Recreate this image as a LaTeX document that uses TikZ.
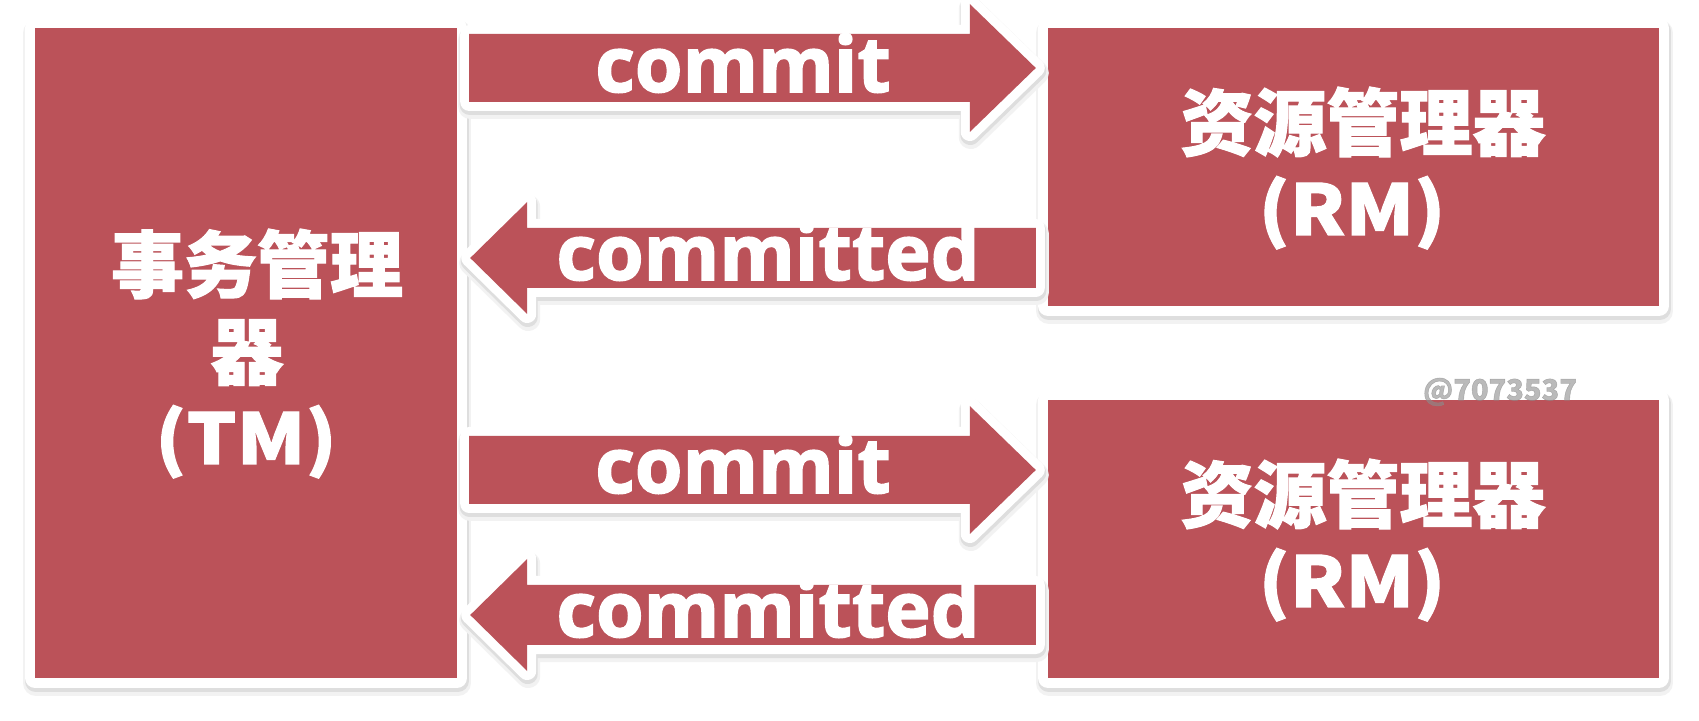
\documentclass[tikz,border=0pt]{standalone}
\usepackage{fontspec}
\newfontfamily\cjk{Noto Sans CJK SC}[BoldFeatures={FakeBold=1.5}]
\newfontfamily\widelat{Noto Sans CJK SC}[FakeStretch=1.12, BoldFeatures={FakeBold=1.5}]
\newfontfamily\lblfont{Open Sans}[BoldFeatures={FakeBold=2}]
\usetikzlibrary{calc}
\definecolor{boxred}{RGB}{187,82,89}
\tikzset{
  shad/.style={
    preaction={draw=black!5, line width=26pt, line join=round, transform canvas={xshift=1pt,yshift=-5pt}},
    preaction={draw=black!13, line width=22pt, line join=round, transform canvas={xshift=0.5pt,yshift=-3pt}},
    preaction={draw=white, line width=20pt, line join=round}},
  box/.style={shad, fill=boxred, rectangle, inner sep=0pt},
  fatarrowsty/.style={
    preaction={draw=black!5, line width=24pt, line join=round, transform canvas={xshift=1pt,yshift=-5pt}},
    preaction={draw=black!13, line width=20pt, line join=round, transform canvas={xshift=0.5pt,yshift=-3pt}},
    preaction={draw=white, line width=18pt, line join=round},
    fill=boxred},
  cjktxt/.style={font=\cjk\bfseries\fontsize{73}{73}\selectfont, text=white, inner sep=0pt, anchor=base},
  abbr/.style={font=\widelat\bfseries\fontsize{70}{70}\selectfont, text=white, inner sep=0pt, anchor=base},
  lbl/.style={font=\lblfont\bfseries\fontsize{77}{77}\selectfont, text=white, inner sep=0pt, anchor=base},
}
% #1 tail, #2 tip, #3 half body, #4 half head, #5 signed head length
\newcommand\fatarrow[5]{%
  \path[fatarrowsty] let \p1=(#1), \p2=(#2) in
    (\x1,{\y1-(#3)}) -- ({\x2-(#5)},{\y1-(#3)}) -- ({\x2-(#5)},{\y1-(#4)}) -- (\x2,\y1)
    -- ({\x2-(#5)},{\y1+(#4)}) -- ({\x2-(#5)},{\y1+(#3)}) -- (\x1,{\y1+(#3)}) -- cycle;}
\begin{document}
\begin{tikzpicture}[x=1pt,y=1pt]
  \fill[white] (0,0) rectangle (1699,720);
  \useasboundingbox (0,0) rectangle (1699,720);

  % boxes
  \node[box, minimum width=422pt, minimum height=650pt] (tm) at (246,367) {};
  \node[box, minimum width=611pt, minimum height=278pt] (rm1) at (1353.5,553) {};
  \node[box, minimum width=611pt, minimum height=278pt] (rm2) at (1353.5,181) {};

  % box texts
  \node[cjktxt] (tm1) at (257,428) {事务管理};
  \node[cjktxt] (tm2) at (247,341) {器};
  \node[abbr] (tm3) at (246,256) {(TM)};
  \node[cjktxt] (rm1a) at (1363,570) {资源管理器};
  \node[abbr] (rm1b) at (1352,485) {(RM)};
  \node[cjktxt] (rm2a) at (1363,198) {资源管理器};
  \node[abbr] (rm2b) at (1352,113) {(RM)};

  % arrow levels
  \coordinate (y1) at (0,652);
  \coordinate (y2) at (0,462);
  \coordinate (y3) at (0,250);
  \coordinate (y4) at (0,105);
  \coordinate (a1s) at ($(tm.east |- y1)+(12,0)$);
  \coordinate (a1e) at ($(rm1.west |- y1)+(-12,0)$);
  \coordinate (a2s) at ($(rm1.west |- y2)+(-12,0)$);
  \coordinate (a2e) at ($(tm.east |- y2)+(13,0)$);
  \coordinate (a3s) at ($(tm.east |- y3)+(12,0)$);
  \coordinate (a3e) at ($(rm2.west |- y3)+(-12,0)$);
  \coordinate (a4s) at ($(rm2.west |- y4)+(-12,0)$);
  \coordinate (a4e) at ($(tm.east |- y4)+(13,0)$);

  \fatarrow{a1s}{a1e}{34}{64}{66}
  \fatarrow{a2s}{a2e}{30}{56}{-57}
  \fatarrow{a3s}{a3e}{34}{64}{66}
  \fatarrow{a4s}{a4e}{30}{56}{-57}

  \node[lbl] (l1) at (743,628) {commit};
  \node[lbl] (l2) at (768,440) {committed};
  \node[lbl] (l3) at (743,227) {commit};
  \node[lbl] (l4) at (768,83) {committed};

  \node[font=\cjk\bfseries\fontsize{29}{29}\selectfont, text=black!45, opacity=0.6, inner sep=0pt] (wm) at (1500,328) {@7073537};
\end{tikzpicture}
\end{document}
